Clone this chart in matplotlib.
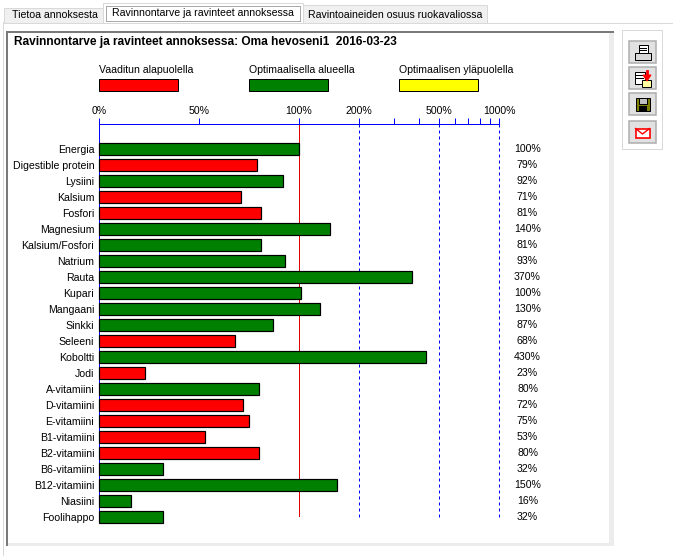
import numpy as np
import matplotlib
matplotlib.use("Agg")
import matplotlib.pyplot as plt
from matplotlib.patches import Rectangle, Polygon
from matplotlib.ticker import NullFormatter

nutrients = ["Energia", "Digestible protein", "Lysiini", "Kalsium", "Fosfori", "Magnesium",
             "Kalsium/Fosfori", "Natrium", "Rauta", "Kupari", "Mangaani", "Sinkki", "Seleeni",
             "Koboltti", "Jodi", "A-vitamiini", "D-vitamiini", "E-vitamiini", "B1-vitamiini",
             "B2-vitamiini", "B6-vitamiini", "B12-vitamiini", "Niasiini", "Foolihappo"]
bar_values = [100, 79, 92, 71, 81, 143, 81, 93, 367, 102, 127, 87, 68, 431, 23, 80, 72, 75, 53,
              80, 32, 155, 16, 32]
value_labels = ["100%", "79%", "92%", "71%", "81%", "140%", "81%", "93%", "370%", "100%", "130%",
                "87%", "68%", "430%", "23%", "80%", "72%", "75%", "53%", "80%", "32%", "150%",
                "16%", "32%"]
statuses = ["ok", "low", "ok", "low", "low", "ok", "ok", "ok", "ok", "ok", "ok", "ok", "low",
            "ok", "low", "ok", "low", "low", "low", "low", "ok", "ok", "ok", "ok"]
major_ticks = [0, 50, 100, 200, 500, 1000]
minor_ticks = [300, 400, 600, 700, 800, 900]
legend_labels = ["Vaaditun alapuolella", "Optimaalisella alueella", "Optimaalisen yläpuolella"]
tab_labels = ["Tietoa annoksesta", "Ravinnontarve ja ravinteet annoksessa", "Ravintoaineiden osuus ruokavaliossa"]
title = "Ravinnontarve ja ravinteet annoksessa: Oma hevoseni1  2016-03-23"

RED, GREEN, YELLOW, BLUE = "#ff0000", "#008000", "#ffff00", "#0000ff"
W, H = 673, 559
FS = 7.6
LW = 0.72
plt.rcParams["font.family"] = ["Liberation Sans", "DejaVu Sans"]
fig = plt.figure(figsize=(W / 100, H / 100), dpi=100, facecolor="white")

# window chrome in pixel coordinates
bg = fig.add_axes([0, 0, 1, 1], zorder=0)
bg.set_xlim(0, W); bg.set_ylim(H, 0); bg.axis("off")
def rect(x0, y0, x1, y1, fc="none", ec="none", lw=LW, z=1):
    return bg.add_patch(Rectangle((x0, y0), x1 - x0, y1 - y0, fc=fc, ec=ec, lw=lw, zorder=z))

# tabs
bg.plot([2.5, 673], [22.5, 22.5], color="#d9d9d9", lw=LW, zorder=2)
rect(3.5, 7.5, 102.5, 22.5, "#f0f0f0", "#d9d9d9", z=2)
rect(302.5, 4.5, 486.5, 22.5, "#f0f0f0", "#d9d9d9", z=2)
rect(102.5, 2.5, 302.5, 23, "white", "#d9d9d9", z=3)
rect(105.5, 5.5, 299.5, 20.5, "none", "#555555", z=4).set_linestyle((0, (1, 1)))
bg.text(54.5, 14.5, tab_labels[0], ha="center", va="center", fontsize=FS, zorder=5)
bg.text(202.5, 12.5, tab_labels[1], ha="center", va="center", fontsize=FS, zorder=5)
bg.text(395, 14.5, tab_labels[2], ha="center", va="center", fontsize=FS, zorder=5)

# report panel
bg.plot([2.5, 2.5], [22, 555], color="#d9d9d9", lw=LW)
rect(6, 31, 614, 546, "#ececec")
rect(6, 31, 8, 546, "#7a7a7a", z=2)
rect(6, 31, 614, 33, "#7a7a7a", z=2)
rect(8, 33, 609, 543, "white", z=2)
bg.text(14, 42, title, fontsize=8.55, fontweight="bold", va="center", ha="left", zorder=3)

# legend
for x, c, lab in zip([99, 249, 399], [RED, GREEN, YELLOW], legend_labels):
    rect(x - 0.5, 78.5, x + 78.5, 90.5, c, "black", z=3)
    bg.text(x, 70, lab, fontsize=FS, va="center", ha="left", zorder=3)

# toolbar
rect(621.5, 29.5, 661.5, 148.5, "white", "#d9d9d9")
for y0, y1 in [(40.5, 62.5), (66.5, 88.5), (92.5, 114.5), (120.5, 142.5)]:
    rect(628.5, y0, 655.5, y1, "#e1e1e1", "#adadad", lw=1.1)
# printer
rect(638.5, 44.5, 647.5, 52.5, "white", "black", z=3)
rect(634.5, 52.5, 650.5, 59.5, "#d8d8d8", "black", z=3)
bg.plot([640, 646], [47.5, 47.5], color="black", lw=LW, zorder=4)
bg.plot([640, 646], [50, 50], color="black", lw=LW, zorder=4)
# export
rect(634.5, 71.5, 644.5, 83.5, "white", "black", z=3)
rect(641.5, 79.5, 650.5, 86.5, "#ffffa0", "black", z=3)
bg.plot([636, 643], [75, 75], color="black", lw=LW, zorder=4)
bg.plot([636, 643], [78, 78], color="black", lw=LW, zorder=4)
bg.add_patch(Polygon([[643, 75], [651, 75], [647, 81]], fc="red", ec="red", lw=LW, zorder=5))
bg.plot([647, 647], [71, 76], color="red", lw=2, zorder=5)
# floppy
rect(635.5, 97.5, 649.5, 110.5, "#808000", "black", z=3)
rect(638.5, 97.5, 646.5, 103.5, "#c0c0c0", "black", z=4)
rect(638.5, 105.5, 646.5, 110.5, "black", z=4)
# mail
rect(635.5, 128.5, 649.5, 137.5, "white", "red", lw=1.2, z=3)
bg.plot([635.5, 642.5, 649.5], [128.5, 134, 128.5], color="red", lw=LW * 1.4, zorder=4)

# chart: linear up to 100 %, logarithmic above; both halves take 200 px
def forward(v):
    v = np.asarray(v, dtype=float)
    return np.where(v <= 100, v, 100 + 100 * np.log10(np.maximum(v, 100) / 100))
def inverse(p):
    p = np.asarray(p, dtype=float)
    return np.where(p <= 100, p, 100 * 10 ** ((p - 100) / 100))

x0, x1, ytop, ybot = 99, 499, 123.5, 517
ax = fig.add_axes([x0 / W, 1 - ybot / H, (x1 - x0) / W, (ybot - ytop) / H], zorder=2)
ax.patch.set_alpha(0)
ax.set_xscale("function", functions=(forward, inverse))
ax.set_xlim(0, 1000)
pitch = 16
ax.set_ylim((ybot - 149.5) / pitch, (ytop - 149.5) / pitch)

for s in ["right", "bottom"]:
    ax.spines[s].set_visible(False)
for s in ["top", "left"]:
    ax.spines[s].set_color(BLUE)
    ax.spines[s].set_linewidth(LW)

ax.xaxis.tick_top()
ax.set_xticks(major_ticks)
ax.set_xticklabels([f"{t}%" for t in major_ticks], fontsize=FS)
ax.set_xticks(minor_ticks, minor=True)
ax.tick_params(axis="x", which="major", length=4.5, width=LW, color=BLUE, pad=1.2)
ax.tick_params(axis="x", which="minor", length=4.5, width=LW, color=BLUE, labeltop=False)
ax.xaxis.set_minor_formatter(NullFormatter())

ypos = np.arange(len(nutrients))
ax.set_yticks(ypos)
ax.set_yticklabels(nutrients, fontsize=FS)
ax.tick_params(axis="y", length=0, pad=3.5)

ax.axvline(100, color="#e00000", lw=LW, zorder=1)
for v in [200, 500, 1000]:
    ax.axvline(v, color=BLUE, lw=LW, ls=(0, (3, 3)), zorder=1, clip_on=False)

colors = [GREEN if s == "ok" else RED for s in statuses]
bars = ax.barh(ypos, bar_values, height=12 / pitch, color=colors, edgecolor="black", linewidth=LW * 1.2, zorder=3)
for b in bars:
    b.set_clip_on(False)

for y, lab in zip(ypos, value_labels):
    ax.annotate(lab, xy=(1, y), xycoords=ax.get_yaxis_transform(), xytext=(28.5, 0),
                textcoords="offset pixels", ha="center", va="center", fontsize=FS)

fig.savefig("out.png", dpi=100, facecolor="white")
